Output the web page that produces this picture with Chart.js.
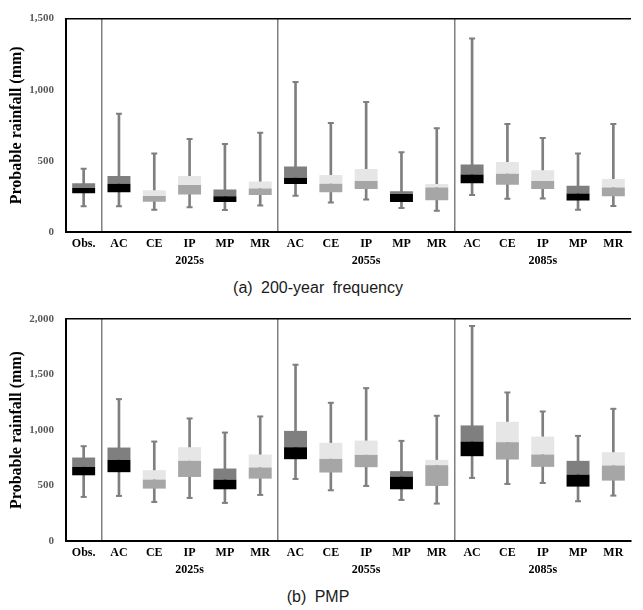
<!DOCTYPE html>
<html>
<head>
<meta charset="utf-8">
<script src="https://cdn.jsdelivr.net/npm/chart.js@4.4.1/dist/chart.umd.min.js"></script>
<style>
  html, body { margin: 0; padding: 0; background: #fff; }
  #wrap { position: relative; width: 643px; height: 610px; }
  canvas { position: absolute; left: 0; }
  .cap { position: absolute; left: 0; width: 636px; text-align: center;
         font-family: "Liberation Sans", Arial, sans-serif; font-size: 16px;
         word-spacing: 4px; color: #1a1a1a; }
</style>
</head>
<body>
<div id="wrap">
  <canvas id="c1" width="643" height="276" style="top:0px"></canvas>
  <div class="cap" style="top:279px">(a) 200-year frequency</div>
  <canvas id="c2" width="643" height="286" style="top:300px"></canvas>
  <div class="cap" style="top:588px">(b) PMP</div>
</div>
<script>
// ---- categories ----
const categories = ['Obs.','AC','CE','IP','MP','MR','AC','CE','IP','MP','MR','AC','CE','IP','MP','MR'];
const groupLabels = ['','','','2025s','','','','','2055s','','','','','2085s','',''];

// ---- (a) 200-year frequency ----
const freqMin = [181,181,156,174,154,187,255,208,228,169,149,260,233,235,156,183];
const freqQ1  = [273,280,212,264,210,260,337,280,303,210,224,343,332,303,221,251];
const freqMed = [309,339,253,330,251,305,382,339,359,267,312,404,409,359,271,312];
const freqQ3  = [343,393,294,393,298,355,461,400,443,287,337,474,492,434,325,373];
const freqMax = [445,831,551,653,619,698,1055,766,913,560,730,1360,759,660,551,759];

// ---- (b) PMP ----
const pmpMin = [397,406,352,388,343,415,559,457,496,370,337,568,514,523,358,409];
const pmpQ1  = [592,620,472,577,466,562,737,617,665,466,496,764,734,668,490,544];
const pmpMed = [668,731,553,722,553,662,845,740,776,580,683,896,890,779,598,680];
const pmpQ3  = [752,842,638,845,653,779,992,884,905,629,731,1041,1074,941,722,800];
const pmpMax = [854,1278,896,1104,977,1122,1588,1245,1377,902,1128,1937,1338,1167,947,1191];

// ---- axis settings ----
const freqTicks = { max: 1500, step: 500 };
const pmpTicks  = { max: 2000, step: 500 };

// ---- styles per model ----
const upperColorByModel = { 'Obs.': '#7f7f7f', AC: '#7f7f7f', CE: '#e6e6e6', IP: '#e6e6e6', MP: '#7f7f7f', MR: '#e6e6e6' };
const lowerColorByModel = { 'Obs.': '#000000', AC: '#000000', CE: '#a6a6a6', IP: '#a6a6a6', MP: '#000000', MR: '#a6a6a6' };
const whiskerColor = '#7f7f7f';
const dividerIdx = [1, 6, 11];

const serif = "'Liberation Serif', 'Times New Roman', serif";

function makeChart(id, mn, q1, med, q3, mx, tk, padTop, axisH) {
  const labels = categories.map((c, i) => [c, groupLabels[i]]);
  const upperColors = categories.map(c => upperColorByModel[c]);
  const lowerColors = categories.map(c => lowerColorByModel[c]);
  return new Chart(document.getElementById(id), {
    type: 'bar',
    data: {
      labels: labels,
      datasets: [
        { label: 'whisker', data: mn.map((v, i) => [v, mx[i]]), backgroundColor: whiskerColor,
          barThickness: 2, grouped: false, order: 10 },
        { label: 'lower', data: q1.map((v, i) => [v, med[i]]), backgroundColor: lowerColors,
          barPercentage: 0.65, categoryPercentage: 1, grouped: false, order: 1 },
        { label: 'upper', data: med.map((v, i) => [v, q3[i]]), backgroundColor: upperColors,
          barPercentage: 0.65, categoryPercentage: 1, grouped: false, order: 1 },
        { type: 'line', label: 'maxCap', data: mx, showLine: false, pointStyle: 'line',
          pointRadius: 3, pointBorderWidth: 2, borderColor: whiskerColor, pointBorderColor: whiskerColor, order: 5 },
        { type: 'line', label: 'minCap', data: mn, showLine: false, pointStyle: 'line',
          pointRadius: 3, pointBorderWidth: 2, borderColor: whiskerColor, pointBorderColor: whiskerColor, order: 5 }
      ]
    },
    options: {
      responsive: false,
      animation: false,
      devicePixelRatio: 1,
      layout: { padding: { top: padTop, right: 12, left: 0, bottom: 0 } },
      plugins: { legend: { display: false }, tooltip: { enabled: false } },
      scales: {
        x: {
          offset: true,
          afterFit: s => { s.height = axisH; },
          border: { display: true, color: '#000', width: 2 },
          grid: {
            offset: true, drawTicks: false,
            color: ctx => ctx.index === categories.length ? '#000' : (dividerIdx.includes(ctx.index) ? '#7f7f7f' : 'rgba(0,0,0,0)'),
            lineWidth: ctx => ctx.index === categories.length ? 1.5 : 1.5
          },
          ticks: { padding: 3, color: '#000', maxRotation: 0, autoSkip: false,
                   font: { family: serif, size: 12, weight: 'bold', lineHeight: 1.42 } }
        },
        y: {
          min: 0, max: tk.max,
          afterFit: s => { s.width = 66; },
          border: { display: true, color: '#000', width: 2 },
          grid: {
            drawTicks: false,
            color: ctx => (ctx.tick && ctx.tick.value === tk.max) ? '#000' : 'rgba(0,0,0,0)',
            lineWidth: 1.5
          },
          ticks: { stepSize: tk.step, padding: 12, color: '#595959',
                   font: { family: serif, size: 11, weight: 'bold' },
                   callback: v => v.toLocaleString('en-US') },
          title: { display: true, text: 'Probable rainfall (mm)', color: '#000',
                   padding: { top: 7, bottom: 0 },
                   font: { family: serif, size: 16, weight: 'bold', lineHeight: 1.2 } }
        }
      }
    }
  });
}

makeChart('c1', freqMin, freqQ1, freqMed, freqQ3, freqMax, freqTicks, 11, 44);
makeChart('c2', pmpMin, pmpQ1, pmpMed, pmpQ3, pmpMax, pmpTicks, 19, 45);
</script>
</body>
</html>
